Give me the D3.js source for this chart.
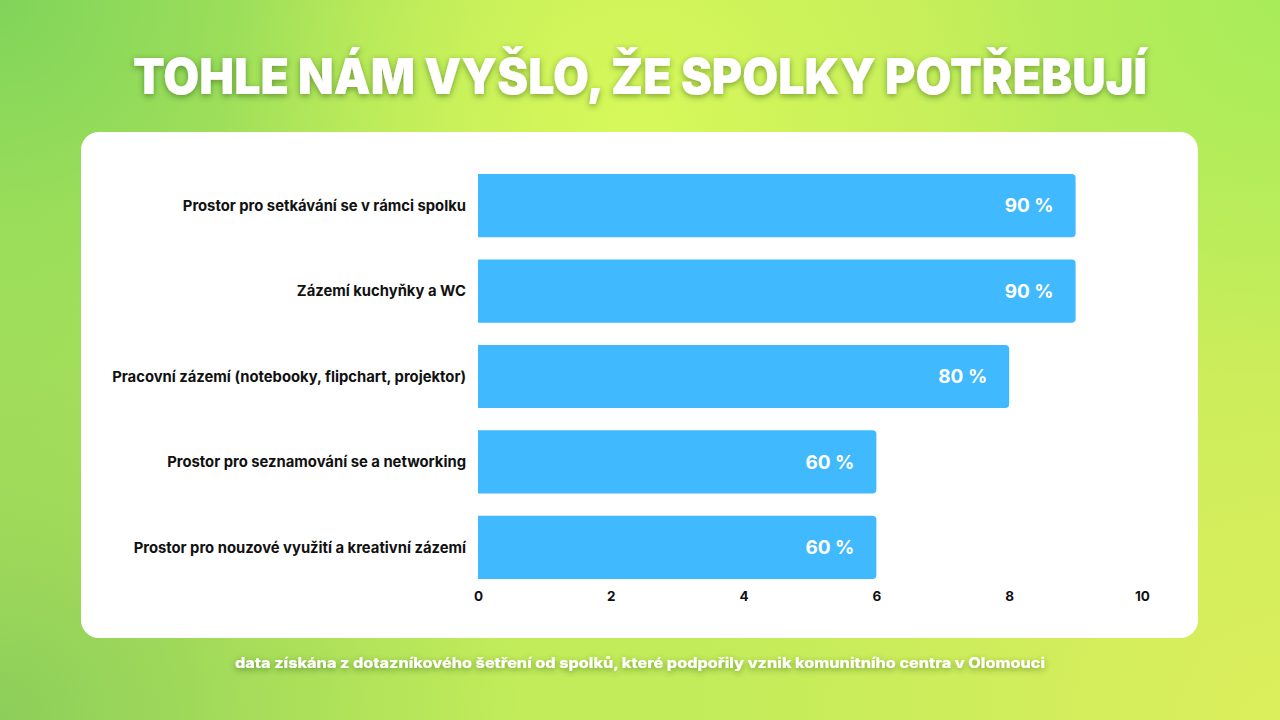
<!DOCTYPE html>
<html>
<head>
<meta charset="utf-8">
<script src="https://cdn.jsdelivr.net/npm/d3@7"></script>
<style>
  html, body { margin: 0; padding: 0; }
  body {
    width: 1280px; height: 720px; overflow: hidden;
    background:
      radial-gradient(circle at 640px 130px, rgba(214,248,90,1) 0px, rgba(214,248,90,0) 420px),
      radial-gradient(circle at 0px 0px, rgba(128,212,90,1) 0px, rgba(128,212,90,0) 560px),
      radial-gradient(circle at 0px 720px, rgba(140,206,90,1) 0px, rgba(140,206,90,0) 520px),
      radial-gradient(circle at 1280px 0px, rgba(168,236,90,1) 0px, rgba(168,236,90,0) 380px),
      radial-gradient(circle at 1280px 720px, rgba(220,238,92,1) 0px, rgba(220,238,92,0) 600px),
      #c2ec5a;
  }
  svg { display: block; }
</style>
</head>
<body>
<div id="chart"></div>
<script>
// data
const categories = [
  'Prostor pro setkávání se v rámci spolku',
  'Zázemí kuchyňky a WC',
  'Pracovní zázemí (notebooky, flipchart, projektor)',
  'Prostor pro seznamování se a networking',
  'Prostor pro nouzové využití a kreativní zázemí'
];
const values = [9, 9, 8, 6, 6];
const valueLabels = ['90 %', '90 %', '80 %', '60 %', '60 %'];
const xTicks = [0, 2, 4, 6, 8, 10];
const title = 'TOHLE NÁM VYŠLO, ŽE SPOLKY POTŘEBUJÍ';
const footnote = 'data získána z dotazníkového šetření od spolků, které podpořily vznik komunitního centra v Olomouci';

const width = 1280, height = 720;
const svg = d3.select('#chart').append('svg')
  .attr('width', width)
  .attr('height', height);

const defs = svg.append('defs');
const shadow = defs.append('filter').attr('id', 'txtshadow')
  .attr('x', '-10%').attr('y', '-40%').attr('width', '120%').attr('height', '180%');
shadow.append('feDropShadow')
  .attr('dx', 0).attr('dy', 2).attr('stdDeviation', 3)
  .attr('flood-color', '#1a3a10').attr('flood-opacity', 0.45);

// title
svg.append('text')
  .attr('x', 640).attr('y', 94)
  .attr('text-anchor', 'middle')
  .attr('font-family', 'Inter, "Noto Sans", sans-serif')
  .attr('font-weight', 900)
  .attr('font-size', 49)
  .attr('fill', '#fff')
  .attr('textLength', 1014)
  .attr('lengthAdjust', 'spacingAndGlyphs')
  .attr('filter', 'url(#txtshadow)')
  .text(title);

// card
svg.append('rect')
  .attr('x', 81).attr('y', 132)
  .attr('width', 1117).attr('height', 506)
  .attr('rx', 18)
  .attr('fill', '#fff');

// scales
const x = d3.scaleLinear().domain([0, 10]).range([478, 1142]);
const y = d3.scaleBand().domain(categories).range([174, 579]).paddingInner(0.26).paddingOuter(0);

const chart = svg.append('g').attr('class', 'chart');

function barPath(x0, y0, w, h, r) {
  return 'M' + x0 + ',' + y0 +
    'H' + (x0 + w - r) +
    'Q' + (x0 + w) + ',' + y0 + ' ' + (x0 + w) + ',' + (y0 + r) +
    'V' + (y0 + h - r) +
    'Q' + (x0 + w) + ',' + (y0 + h) + ' ' + (x0 + w - r) + ',' + (y0 + h) +
    'H' + x0 + 'Z';
}

chart.selectAll('.bar')
  .data(categories)
  .enter()
  .append('path')
  .attr('class', 'bar')
  .attr('fill', '#40b9ff')
  .attr('d', (d, i) => barPath(x(0), y(d), x(values[i]) - x(0), y.bandwidth(), 4));

chart.selectAll('.val')
  .data(categories)
  .enter()
  .append('text')
  .attr('class', 'val')
  .attr('x', (d, i) => x(values[i]) - 22)
  .attr('y', d => y(d) + y.bandwidth() / 2)
  .attr('dy', '0.35em')
  .attr('text-anchor', 'end')
  .attr('font-family', 'Inter, "Noto Sans", sans-serif')
  .attr('font-weight', 700)
  .attr('font-size', 19)
  .attr('fill', '#fff')
  .text((d, i) => valueLabels[i]);

// category labels
chart.selectAll('.cat')
  .data(categories)
  .enter()
  .append('text')
  .attr('class', 'cat')
  .attr('x', 466)
  .attr('y', d => y(d) + y.bandwidth() / 2)
  .attr('dy', '0.35em')
  .attr('text-anchor', 'end')
  .attr('font-family', 'Inter, "Noto Sans", sans-serif')
  .attr('font-weight', 700)
  .attr('font-size', 14.8)
  .attr('fill', '#111')
  .text(d => d);

// x axis
const xAxis = d3.axisBottom(x).tickValues(xTicks).tickSize(0).tickPadding(10);
const axisG = chart.append('g')
  .attr('class', 'x axis')
  .attr('transform', 'translate(0,' + 581 + ')')
  .call(xAxis);
axisG.select('.domain').remove();
axisG.selectAll('text')
  .attr('font-family', 'Inter, "Noto Sans", sans-serif')
  .attr('font-weight', 700)
  .attr('font-size', 13.5)
  .attr('fill', '#111');

// footnote
svg.append('text')
  .attr('x', 640).attr('y', 668)
  .attr('text-anchor', 'middle')
  .attr('font-family', 'Inter, "Noto Sans", sans-serif')
  .attr('font-weight', 800)
  .attr('font-size', 14)
  .attr('fill', '#fff')
  .attr('textLength', 810)
  .attr('lengthAdjust', 'spacingAndGlyphs')
  .attr('filter', 'url(#txtshadow)')
  .text(footnote);
</script>
</body>
</html>
